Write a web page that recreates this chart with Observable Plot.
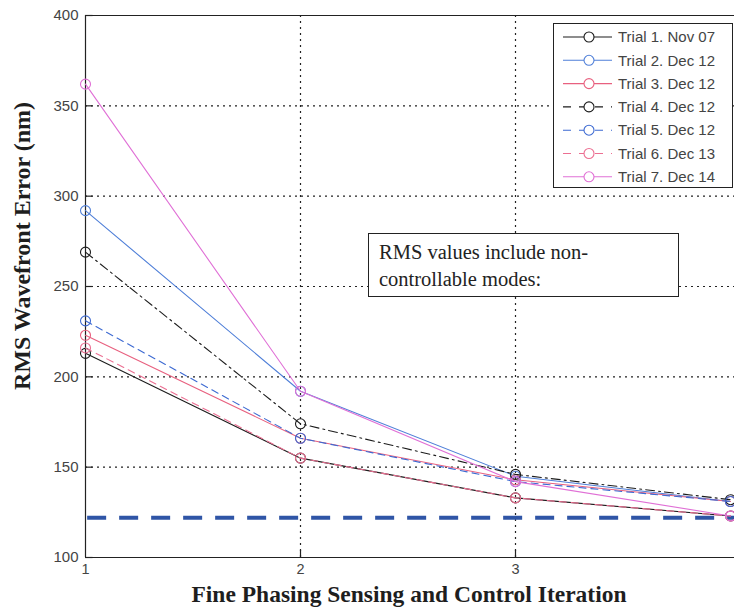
<!DOCTYPE html>
<html><head><meta charset="utf-8">
<script src="https://cdn.jsdelivr.net/npm/d3@7"></script>
<script src="https://cdn.jsdelivr.net/npm/@observablehq/plot@0.6"></script>
<style>
body{margin:0;background:#fff;}
#wrap{position:relative;width:734px;height:607px;overflow:hidden;background:#fff;}
#wrap svg{position:absolute;left:0;top:0;}
.ylab{position:absolute;left:22px;top:246px;transform:translate(-50%,-50%) rotate(-90deg);white-space:nowrap;font-family:"Liberation Serif","Times New Roman",serif;font-weight:bold;font-size:24px;color:#1e1e1e;}
.xlab{position:absolute;left:409px;top:594px;transform:translate(-50%,-50%);white-space:nowrap;font-family:"Liberation Serif","Times New Roman",serif;font-weight:bold;font-size:23.5px;line-height:24px;color:#1e1e1e;}
.note{position:absolute;left:368px;top:233px;width:311px;height:64px;background:#fff;border:1px solid #222;box-sizing:border-box;font-family:"Liberation Serif","Times New Roman",serif;font-size:20.5px;line-height:27px;color:#222;padding:5px 0 0 10px;}
.legend{position:absolute;left:553px;top:23px;width:180px;height:165px;background:#fff;border:1px solid #222;box-sizing:border-box;}
.legend svg{position:static !important;display:block;}
</style></head><body><div id="wrap"></div>
<script>
// ---- data ----
const iterations = [1, 2, 3, 4];
const trialNames = ["Trial 1. Nov 07", "Trial 2. Dec 12", "Trial 3. Dec 12", "Trial 4. Dec 12", "Trial 5. Dec 12", "Trial 6. Dec 13", "Trial 7. Dec 14"];
const trial1 = [213, 155, 133, 123];
const trial2 = [292, 192, 145, 131];
const trial3 = [223, 166, 143, 131];
const trial4 = [269, 174, 146, 132];
const trial5 = [231, 166, 142, 131];
const trial6 = [216, 155, 133, 123];
const trial7 = [362, 192, 142, 123];
const trialColors = ["#1c1c1c", "#4f7fd8", "#e8607f", "#1c1c1c", "#3d6ad2", "#ec6f92", "#e070d6"];
const trialDashes = [null, null, null, "9,4,2,4", "7,5", "7,5", null];
const xTicks = [1, 2, 3];
const yTicks = [100, 150, 200, 250, 300, 350, 400];
const yGrid = [150, 200, 250, 300, 350];
const xGrid = [2, 3];
const floorLevel = [122];
const xLabel = "Fine Phasing Sensing and Control Iteration";
const yLabel = "RMS Wavefront Error (nm)";
const noteLines = ["RMS values include non-", "controllable modes:"];

const trials = [trial1, trial2, trial3, trial4, trial5, trial6, trial7];
const rows = trials.map((vals, i) => iterations.map((x, j) => ({trial: trialNames[i], x, y: vals[j]})));

const marks = [
  Plot.ruleY(yGrid, {x1: 1, x2: 4.05, stroke: "#222", strokeWidth: 1.2, strokeDasharray: "2,4"}),
  Plot.ruleX(xGrid, {y1: 100, y2: 400, stroke: "#222", strokeWidth: 1.2, strokeDasharray: "2,4"}),
  Plot.ruleY([100, 400], {x1: 1, x2: 4.05, stroke: "#222", strokeWidth: 1.2}),
  Plot.ruleX([1], {y1: 100, y2: 400, stroke: "#222", strokeWidth: 1.2}),
  Plot.ruleY(yTicks, {x1: 1, x2: 1.035, stroke: "#222", strokeWidth: 1.2}),
  Plot.ruleX(xGrid, {y1: 100, y2: 104, stroke: "#222", strokeWidth: 1.2}),
  Plot.ruleY(floorLevel, {x1: 1.01, x2: 4.05, stroke: "#2f55a6", strokeWidth: 4, strokeDasharray: "19,13"}),
  Plot.axisX(xTicks, {tickSize: 0, tickPadding: 6, fontSize: 14.5, fill: "#444", label: null, tickFormat: d3.format("d")}),
  Plot.axisY(yTicks, {tickSize: 0, tickPadding: 7, fontSize: 15, fill: "#444", label: null, tickFormat: d3.format("d")})
];
rows.forEach((d, i) => {
  marks.push(Plot.line(d, {x: "x", y: "y", stroke: trialColors[i], strokeWidth: 1.1, strokeDasharray: trialDashes[i]}));
  marks.push(Plot.dot(d, {x: "x", y: "y", r: 5, stroke: trialColors[i], strokeWidth: 1.1, fill: "none"}));
});

const chart = Plot.plot({
  width: 734, height: 607,
  marginLeft: 85, marginRight: 4, marginTop: 15, marginBottom: 50,
  x: {domain: [1, 4]},
  y: {domain: [100, 400]},
  style: {fontFamily: "'Liberation Sans', Arial, sans-serif", fontSize: "15px", background: "#fff", overflow: "visible"},
  marks
});
const wrap = document.getElementById("wrap");
wrap.appendChild(chart);

const yl = document.createElement("div"); yl.className = "ylab"; yl.textContent = yLabel; wrap.appendChild(yl);
const xl = document.createElement("div"); xl.className = "xlab"; xl.textContent = xLabel; wrap.appendChild(xl);
const note = document.createElement("div"); note.className = "note";
note.innerHTML = noteLines.join("<br>"); wrap.appendChild(note);

// legend
const leg = document.createElement("div"); leg.className = "legend"; wrap.appendChild(leg);
const ls = d3.select(leg).append("svg").attr("width", 178).attr("height", 163);
trialNames.forEach((name, i) => {
  const cy = 13 + i * 23.3;
  const g = ls.append("g");
  g.append("line").attr("x1", 9).attr("x2", 58).attr("y1", cy).attr("y2", cy)
    .attr("stroke", trialColors[i]).attr("stroke-width", 1.1)
    .attr("stroke-dasharray", trialDashes[i] ? "8,8" : null);
  g.append("circle").attr("cx", 35).attr("cy", cy).attr("r", 5).attr("fill", "#fff")
    .attr("stroke", trialColors[i]).attr("stroke-width", 1.1);
  g.append("text").attr("x", 64).attr("y", cy + 5.2).text(name)
    .attr("font-family", "'Liberation Sans', Arial, sans-serif").attr("font-size", 15).attr("fill", "#444");
});
</script></body></html>
